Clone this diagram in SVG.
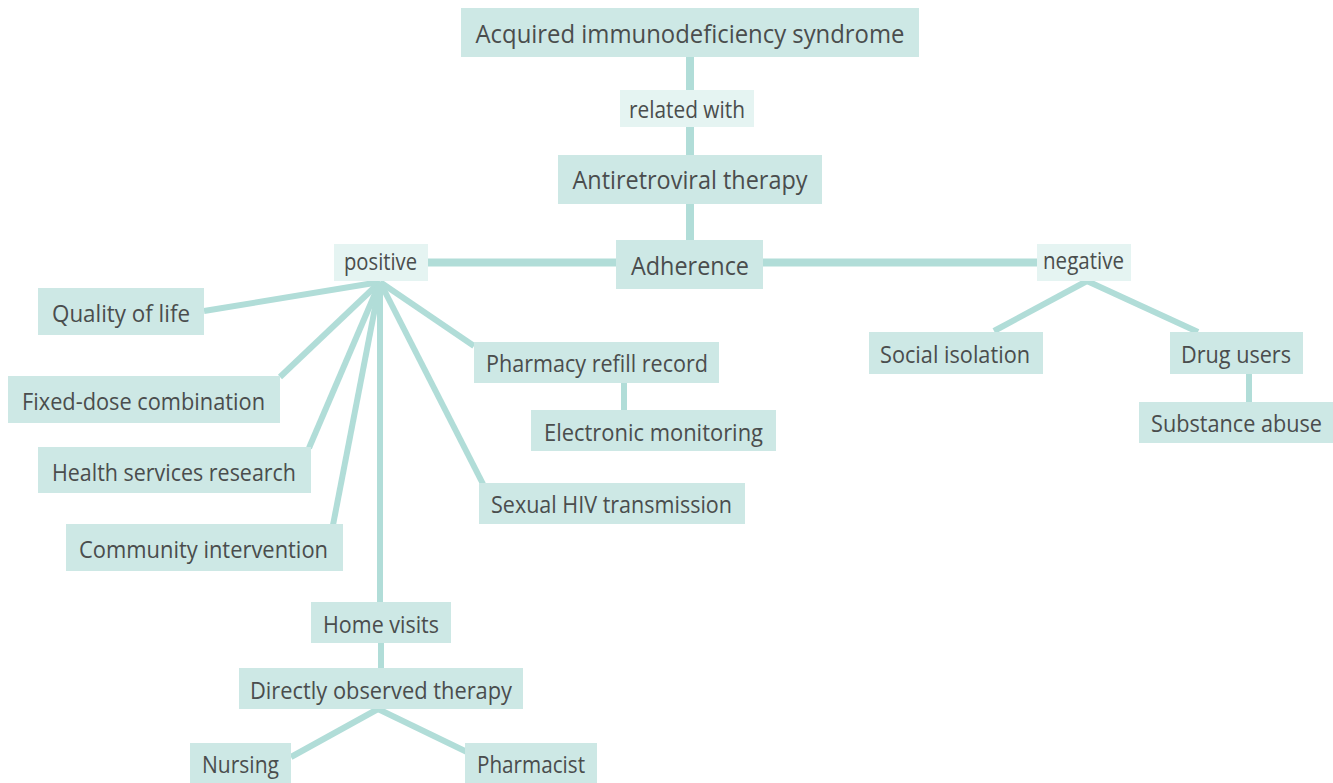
<svg xmlns="http://www.w3.org/2000/svg" width="1333" height="783" viewBox="0 0 1333 783">
<style>
.b{fill:#cde8e5}
.l{fill:#e5f4f2}
.t{font-family:"Open Sans","Noto Sans",sans-serif;font-size:26px;fill:#4a4d4d;text-anchor:middle}
.s{font-size:24px}
.c{stroke:#b1ddd8;stroke-width:8;fill:none}
.r{stroke:#b1ddd8;stroke-width:6;fill:none}
</style>
<rect width="1333" height="783" fill="#ffffff"/>
<g id="connectors">
<line class="c" x1="690" y1="57" x2="690" y2="90"/>
<line class="c" x1="690" y1="127" x2="690" y2="155"/>
<line class="c" x1="690" y1="204" x2="690" y2="240"/>
<line class="c" x1="428" y1="262.5" x2="616" y2="262.5"/>
<line class="c" x1="763" y1="262.5" x2="1037" y2="262.5"/>
<line class="r" x1="380" y1="282" x2="204" y2="311"/>
<line class="r" x1="380" y1="282" x2="280" y2="377"/>
<line class="r" x1="380" y1="282" x2="309" y2="448"/>
<line class="r" x1="380" y1="282" x2="333" y2="525"/>
<line class="r" x1="380" y1="282" x2="380" y2="602"/>
<line class="r" x1="380" y1="282" x2="474" y2="346"/>
<line class="r" x1="380" y1="282" x2="483" y2="484"/>
<line class="r" x1="624" y1="383" x2="624" y2="410"/>
<line class="r" x1="381" y1="643" x2="381" y2="668"/>
<line class="r" x1="378" y1="709" x2="291" y2="757"/>
<line class="r" x1="378" y1="709" x2="467" y2="752"/>
<line class="r" x1="1087" y1="281" x2="994" y2="331"/>
<line class="r" x1="1087" y1="281" x2="1198" y2="332"/>
<line class="r" x1="1249" y1="374" x2="1249" y2="402"/>
</g>
<g id="aids"><rect class="b" x="461" y="8" width="458" height="49"/><text class="t" x="690" y="43" textLength="429" lengthAdjust="spacingAndGlyphs">Acquired immunodeficiency syndrome</text></g>
<g id="related"><rect class="l" x="620" y="90" width="134" height="37"/><text class="t s" x="687" y="118" textLength="116" lengthAdjust="spacingAndGlyphs">related with</text></g>
<g id="art"><rect class="b" x="558" y="155" width="264" height="49"/><text class="t" x="690" y="189" textLength="235" lengthAdjust="spacingAndGlyphs">Antiretroviral therapy</text></g>
<g id="adherence"><rect class="b" x="616" y="240" width="147" height="49"/><text class="t" x="690" y="275" textLength="118" lengthAdjust="spacingAndGlyphs">Adherence</text></g>
<g id="positive"><rect class="l" x="334" y="244" width="94" height="37"/><text class="t s" x="380.5" y="270" textLength="73" lengthAdjust="spacingAndGlyphs">positive</text></g>
<g id="negative"><rect class="l" x="1037" y="244" width="94" height="37"/><text class="t s" x="1083.5" y="269" textLength="81" lengthAdjust="spacingAndGlyphs">negative</text></g>
<g id="quality"><rect class="b" x="38" y="288" width="166" height="47"/><text class="t s" x="121" y="322" textLength="138" lengthAdjust="spacingAndGlyphs">Quality of life</text></g>
<g id="fixed"><rect class="b" x="8" y="376" width="272" height="47"/><text class="t s" x="143.5" y="410" textLength="243" lengthAdjust="spacingAndGlyphs">Fixed-dose combination</text></g>
<g id="health"><rect class="b" x="38" y="447" width="273" height="46"/><text class="t s" x="174" y="481" textLength="244" lengthAdjust="spacingAndGlyphs">Health services research</text></g>
<g id="community"><rect class="b" x="66" y="524" width="277" height="47"/><text class="t s" x="203.5" y="558" textLength="249" lengthAdjust="spacingAndGlyphs">Community intervention</text></g>
<g id="pharmacy"><rect class="b" x="474" y="342" width="245" height="41"/><text class="t s" x="597" y="372" textLength="222" lengthAdjust="spacingAndGlyphs">Pharmacy refill record</text></g>
<g id="electronic"><rect class="b" x="531" y="410" width="245" height="41"/><text class="t s" x="653.5" y="441" textLength="219" lengthAdjust="spacingAndGlyphs">Electronic monitoring</text></g>
<g id="sexual"><rect class="b" x="479" y="483" width="266" height="41"/><text class="t s" x="611.5" y="513" textLength="241" lengthAdjust="spacingAndGlyphs">Sexual HIV transmission</text></g>
<g id="home"><rect class="b" x="311" y="602" width="140" height="41"/><text class="t s" x="381" y="633" textLength="116" lengthAdjust="spacingAndGlyphs">Home visits</text></g>
<g id="dot"><rect class="b" x="239" y="668" width="284" height="41"/><text class="t s" x="381" y="699" textLength="262" lengthAdjust="spacingAndGlyphs">Directly observed therapy</text></g>
<g id="nursing"><rect class="b" x="190" y="743" width="101" height="40"/><text class="t s" x="240.5" y="773" textLength="77" lengthAdjust="spacingAndGlyphs">Nursing</text></g>
<g id="pharmacist"><rect class="b" x="465" y="743" width="132" height="40"/><text class="t s" x="531" y="773" textLength="108" lengthAdjust="spacingAndGlyphs">Pharmacist</text></g>
<g id="social"><rect class="b" x="869" y="332" width="174" height="42"/><text class="t s" x="955" y="363" textLength="150" lengthAdjust="spacingAndGlyphs">Social isolation</text></g>
<g id="drug"><rect class="b" x="1170" y="332" width="133" height="42"/><text class="t s" x="1236" y="363" textLength="110" lengthAdjust="spacingAndGlyphs">Drug users</text></g>
<g id="substance"><rect class="b" x="1139" y="402" width="194" height="41"/><text class="t s" x="1236.5" y="432" textLength="171" lengthAdjust="spacingAndGlyphs">Substance abuse</text></g>
</svg>
